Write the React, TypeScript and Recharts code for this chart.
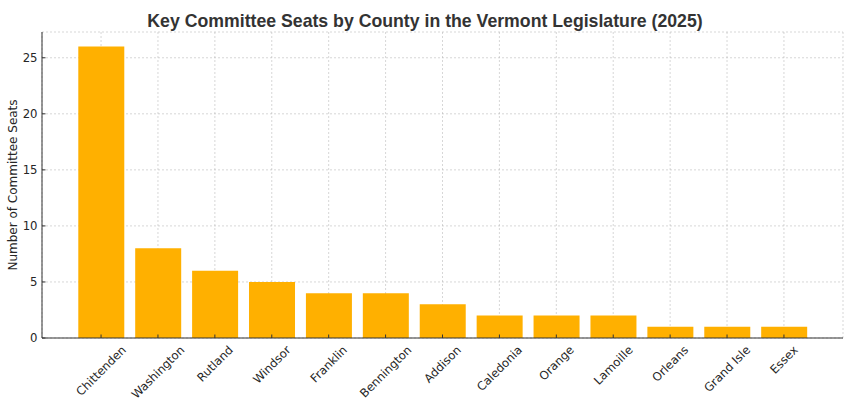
import { BarChart, Bar, XAxis, YAxis, CartesianGrid } from "recharts";

const counties = [
  "Chittenden",
  "Washington",
  "Rutland",
  "Windsor",
  "Franklin",
  "Bennington",
  "Addison",
  "Caledonia",
  "Orange",
  "Lamoille",
  "Orleans",
  "Grand Isle",
  "Essex",
];
const seats = [26, 8, 6, 5, 4, 4, 3, 2, 2, 2, 1, 1, 1];
const yTicks = [0, 5, 10, 15, 20, 25];

const data = counties.map((county, i) => ({ county, seats: seats[i] }));

const TICK_FONT = "DejaVu Sans";
const TICK_SIZE = 11.7;

let ctx: CanvasRenderingContext2D | null = null;
const measure = (s: string) => {
  if (!ctx) ctx = document.createElement("canvas").getContext("2d");
  if (!ctx) return s.length * TICK_SIZE * 0.6;
  ctx.font = `${TICK_SIZE}px "${TICK_FONT}"`;
  return ctx.measureText(s).width;
};

// rotated label, bounding box centred under the tick like matplotlib
const RotatedTick = (props: any) => {
  const { x, y, payload } = props;
  const label = String(payload.value);
  const L = measure(label);
  const h = TICK_SIZE * 1.164;
  const box = (L + h) / Math.SQRT2;
  const cy = y + 1 + box / 2;
  return (
    <g transform={`translate(${x},${cy}) rotate(-45)`}>
      <text
        textAnchor="middle"
        dy="0.35em"
        fontFamily={TICK_FONT}
        fontSize={TICK_SIZE}
        fill="#262626"
      >
        {label}
      </text>
    </g>
  );
};

const YLabel = (props: any) => {
  const vb = props.viewBox || {};
  const cy = (vb.y ?? 32) + (vb.height ?? 306) / 2;
  return (
    <text
      x={0}
      y={0}
      transform={`translate(13,${cy}) rotate(-90)`}
      textAnchor="middle"
      dy="0.35em"
      fontFamily={TICK_FONT}
      fontSize={12}
      fill="#262626"
    >
      Number of Committee Seats
    </text>
  );
};

export default function App() {
  return (
    <div
      style={{
        position: "absolute",
        left: 0,
        top: 0,
        width: 850,
        height: 407,
        background: "#fff",
      }}
    >
      <div
        style={{
          position: "absolute",
          left: 0,
          top: 11,
          width: 850,
          textAlign: "center",
          fontFamily: "Liberation Sans",
          fontWeight: "bold",
          fontSize: 17.7,
          color: "#333",
          whiteSpace: "nowrap",
        }}
      >
        Key Committee Seats by County in the Vermont Legislature (2025)
      </div>
      <BarChart
        width={850}
        height={407}
        data={data}
        margin={{ top: 32, right: 7, bottom: 0, left: 0 }}
        barCategoryGap="10%"
      >
        <XAxis
          dataKey="county"
          interval={0}
          height={69}
          padding={{ left: 30.6, right: 30.6 }}
          tick={<RotatedTick />}
          tickSize={-3.5}
          tickMargin={7.5}
          axisLine={{ stroke: "#333", strokeWidth: 1 }}
          tickLine={{ stroke: "#333" }}
        />
        <YAxis
          width={42}
          domain={[0, 27.3]}
          ticks={yTicks}
          tickSize={-3.5}
          tickMargin={8}
          axisLine={{ stroke: "#333", strokeWidth: 1 }}
          tickLine={{ stroke: "#333" }}
          tick={{ fontFamily: TICK_FONT, fontSize: TICK_SIZE, fill: "#262626" }}
          label={<YLabel />}
        />
        <Bar dataKey="seats" fill="#FFB000" isAnimationActive={false} />
        <CartesianGrid
          strokeDasharray="2 2"
          stroke="#b0b0b0"
          strokeOpacity={0.5}
        />
      </BarChart>
    </div>
  );
}
